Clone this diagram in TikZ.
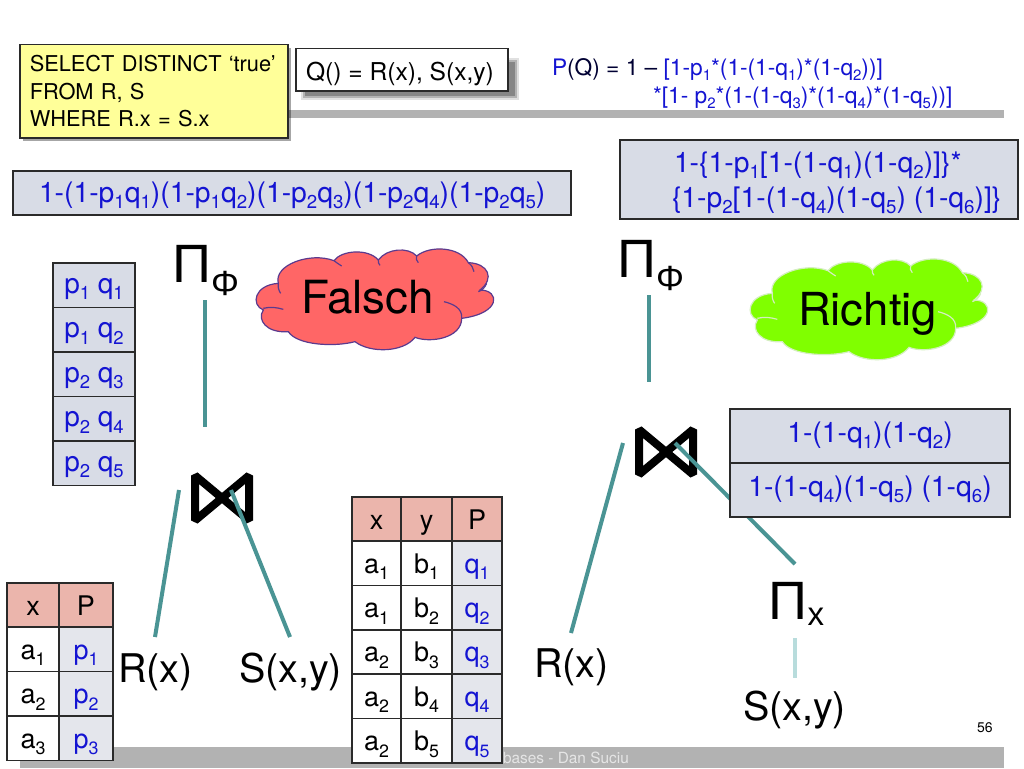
\documentclass[tikz,border=0pt]{standalone}
\usepackage{fontspec}
\setmainfont{TeX Gyre Heros}
\newfontfamily\symfont{Liberation Sans}
\usetikzlibrary{shadows}
\newcommand{\fsz}[1]{\fontsize{#1}{#1}\selectfont}
\newcommand{\dn}[1]{\raisebox{-0.24em}{\scalebox{0.66}{#1}}}
\definecolor{formblue}{HTML}{1414D2}
\definecolor{boxgray}{HTML}{D8DCE6}
\definecolor{cellgray}{HTML}{E4E6EC}
\definecolor{headred}{HTML}{EBB5AC}
\definecolor{bandgray}{HTML}{B2B2B2}
\definecolor{tealline}{HTML}{4A9494}
\definecolor{lightteal}{HTML}{B8DCDC}
\definecolor{edge}{HTML}{2A2A2A}
\definecolor{notey}{HTML}{FFFF99}
\definecolor{cloudred}{HTML}{FF6666}
\definecolor{cloudredline}{HTML}{5B3A8E}
\definecolor{cloudgreen}{HTML}{80FF00}
\definecolor{cloudgreenline}{HTML}{D4EEC0}
\tikzset{
  band/.style={fill=bandgray,draw=none},
  txt/.style={inner sep=0pt,outer sep=0pt,anchor=base west},
  bigtxt/.style={txt,font=\fsz{39.5}},
  form/.style={txt,text=formblue,font=\fsz{28.3}},
  pqform/.style={txt,text=formblue,font=\fsz{22.7}},
  formbox/.style={draw=edge,line width=1.5pt,fill=boxgray,inner sep=0pt,anchor=north west},
  conn/.style={draw=tealline,line width=4pt},
  lightconn/.style={draw=lightteal,line width=4pt},
  cellbase/.style={draw=edge,line width=1.5pt,inner sep=0pt,outer sep=0pt,anchor=north west,align=center,font=\fsz{27},text height=22pt,text depth=2pt},
  head/.style={cellbase,fill=headred},
  plain/.style={cellbase,fill=white},
  prob/.style={cellbase,fill=cellgray,text=formblue},
  listcell/.style={prob,fill=boxgray,minimum width=82pt,minimum height=44.5pt,font=\fsz{28},text height=18pt,text depth=2pt},
  rescell/.style={prob,fill=boxgray,minimum width=280pt,minimum height=54pt,font=\fsz{28.3},text height=16pt,text depth=4pt},
  pics/bowtie/.style={code={\draw[black,line width=8pt,line join=bevel] (-27,-22.5) -- (27,22.5) -- (27,-22.5) -- (-27,22.5) -- cycle;}},
  pics/cloudshape/.style 2 args={code={
    \begin{scope}[x=0.33333pt,y=-0.33333pt]
    \draw[fill=#1,draw=#2,line width=1.2pt]
      (670,240) .. controls (632,225) and (642,165) .. (715,160)
      .. controls (700,105) and (810,65) .. (882,92)
      .. controls (905,60) and (985,55) .. (1015,90)
      .. controls (1040,55) and (1105,50) .. (1130,78)
      .. controls (1170,45) and (1260,50) .. (1285,98)
      .. controls (1345,100) and (1365,145) .. (1320,180)
      .. controls (1380,180) and (1385,250) .. (1265,265)
      .. controls (1265,325) and (1170,340) .. (1125,322)
      .. controls (1090,368) and (990,370) .. (945,335)
      .. controls (880,352) and (770,345) .. (745,305)
      .. controls (680,310) and (650,270) .. (670,240) -- cycle;
    \draw[draw=#2,line width=1.2pt]
      (670,235) .. controls (690,230) and (710,232) .. (730,238)
      (715,160) .. controls (713,170) and (716,182) .. (722,190)
      (882,92) .. controls (890,98) and (898,104) .. (905,108)
      (1015,90) .. controls (1014,96) and (1016,102) .. (1020,106)
      (1130,78) .. controls (1127,86) and (1130,92) .. (1135,98)
      (1285,98) .. controls (1295,105) and (1300,115) .. (1302,125)
      (1340,160) .. controls (1335,172) and (1328,180) .. (1315,185)
      (1265,265) .. controls (1268,235) and (1240,222) .. (1212,215);
    \end{scope}}}
}
\begin{document}
\begin{tikzpicture}[x=1pt,y=-1pt]
\useasboundingbox (0,0) rectangle (1024,768);
\fill[white] (0,0) rectangle (1024,768);

% slide bands
\fill[band] (287,110) rectangle (1004,118);
\fill[band] (20,747) rectangle (1004,768);
\node[txt,text=white!90!black,font=\fsz{15.4}] (footer) at (503,763) {bases - Dan Suciu};
\node[txt,font=\fsz{14}] (pageno) at (977,732) {56};

% header boxes
\node[draw=edge,line width=1.5pt,fill=notey,drop shadow={shadow xshift=3pt,shadow yshift=-3pt,fill=black,opacity=.35},
  anchor=north west,minimum width=268pt,minimum height=93pt,inner xsep=10pt,inner ysep=0pt,text width=248pt,align=left,font=\fontsize{21.8}{27.2}\selectfont]
  (sql) at (19,44) {SELECT DISTINCT ‘true’\\FROM R, S\\WHERE R.x = S.x};
\fill[black,opacity=.12] (301,58) rectangle (519,100);
\fill[black,opacity=.2] (303,60) rectangle (517,98);
\fill[black,opacity=.25] (305,62) rectangle (515,96);
\node[draw=edge,line width=1.5pt,fill=white,anchor=north west,minimum width=212pt,minimum height=42pt,inner sep=0pt] (qbox) at (295,48) {};
\node[txt,font=\fsz{24.6}] (qtext) at (306,80) {Q() = R(x), S(x,y)};

\node[pqform] (pq1) at (552,75) {P\textcolor{black!80!blue}{(Q) = 1 – }[1-p\dn{1}*(1-(1-q\dn{1})*(1-q\dn{2}))]};
\node[pqform] (pq2) at (653,103) {*[1- p\dn{2}*(1-(1-q\dn{3})*(1-q\dn{4})*(1-q\dn{5}))]};

% formula boxes
\node[formbox,minimum width=558pt,minimum height=44pt] (fleft) at (12,170) {};
\node[form] (fleftt) at (39,202) {1-(1-p\dn{1}q\dn{1})(1-p\dn{1}q\dn{2})(1-p\dn{2}q\dn{3})(1-p\dn{2}q\dn{4})(1-p\dn{2}q\dn{5})};
\node[formbox,minimum width=398pt,minimum height=79pt] (fright) at (619,139) {};
\node[form] (frighta) at (674,172) {1-\{1-p\dn{1}[1-(1-q\dn{1})(1-q\dn{2})]\}*};
\node[form] (frightb) at (672,207) {\{1-p\dn{2}[1-(1-q\dn{4})(1-q\dn{5}) (1-q\dn{6})]\}};

% clouds
\path (40,230) pic {cloudshape={cloudred}{cloudredline}};
\node[txt,font=\fsz{45.7}] (falsch) at (301,313) {Falsch};
\begin{scope}[shift={(534,240)},xscale=1.02]
\path (0,0) pic {cloudshape={cloudgreen}{cloudgreenline}};
\end{scope}
\node[txt,font=\fsz{45.5}] (richtig) at (798,325) {Richtig};

% left plan
\node[txt,font=\fsz{54}\symfont] (pi1) at (172,282) {Π\raisebox{-13pt}{\fsz{35}Φ}};
\path (222,498) node[inner sep=0pt,outer sep=0pt] (j1) {} pic {bowtie};
\node[bigtxt] (r1) at (118,682) {R(x)};
\node[bigtxt] (s1) at (239,682) {S(x,y)};
\draw[conn] ([shift={(33,18)}]pi1.base west) -- ([shift={(-17,-71)}]j1.center);
\draw[conn] ([shift={(-43,-8)}]j1.center) -- ([shift={(37,-45)}]r1.base west);
\draw[conn] ([shift={(9,-8)}]j1.center) -- ([shift={(51,-45)}]s1.base west);

% right plan
\node[txt,font=\fsz{54}\symfont] (pi2) at (617,277) {Π\raisebox{-13pt}{\fsz{35}Φ}};
\path (666,452) node[inner sep=0pt,outer sep=0pt] (j2) {} pic {bowtie};
\node[bigtxt] (r2) at (534,677) {R(x)};
\node[txt,font=\fsz{54}\symfont] (pix) at (768,619) {Π\raisebox{-6pt}{\fsz{33}\hspace{0.5pt}x}};
\node[bigtxt] (s2) at (743,720) {S(x,y)};
\draw[conn] ([shift={(32,18)}]pi2.base west) -- ([shift={(-17,-70)}]j2.center);
\draw[conn] ([shift={(-43,-9)}]j2.center) -- ([shift={(37,-44)}]r2.base west);
\draw[conn] ([shift={(9,-9)}]j2.center) -- ([shift={(27,-55)}]pix.base west);
\draw[lightconn] ([shift={(27,19)}]pix.base west) -- ([shift={(52,-42)}]s2.base west);

% result list
\node[listcell] (l1) at (53,263) {p\dn{1} q\dn{1}};
\node[listcell] (l2) at (53,307.5) {p\dn{1} q\dn{2}};
\node[listcell] (l3) at (53,352) {p\dn{2} q\dn{3}};
\node[listcell] (l4) at (53,396.5) {p\dn{2} q\dn{4}};
\node[listcell] (l5) at (53,441) {p\dn{2} q\dn{5}};

% right result table
\node[rescell] (res1) at (730,409) {1-(1-q\dn{1})(1-q\dn{2})};
\node[rescell] (res2) at (730,463) {1-(1-q\dn{4})(1-q\dn{5}) (1-q\dn{6})};

% table R
\tikzset{rw/.style={minimum width=52pt,minimum height=44.5pt},rp/.style={minimum width=54pt,minimum height=44.5pt}}
\node[head,rw] (rh1) at (7,583) {x};
\node[head,rp] (rh2) at (59,583) {P};
\node[plain,rw] (ra1) at (7,627) {a\dn{1}};
\node[prob,rp] (rp1) at (59,627) {p\dn{1}};
\node[plain,rw] (ra2) at (7,671.5) {a\dn{2}};
\node[prob,rp] (rp2) at (59,671.5) {p\dn{2}};
\node[plain,rw] (ra3) at (7,716) {a\dn{3}};
\node[prob,rp] (rp3) at (59,716) {p\dn{3}};

% table S
\tikzset{sx/.style={minimum width=49pt,minimum height=44.3pt},sy/.style={minimum width=51pt,minimum height=44.3pt},sp/.style={minimum width=50pt,minimum height=44.3pt}}
\node[head,sx] (sh1) at (352,497) {x};
\node[head,sy] (sh2) at (401,497) {y};
\node[head,sp] (sh3) at (452,497) {P};
\node[plain,sx] (sa1) at (352,541) {a\dn{1}};
\node[plain,sy] (sb1) at (401,541) {b\dn{1}};
\node[prob,sp] (sq1) at (452,541) {q\dn{1}};
\node[plain,sx] (sa2) at (352,585.4) {a\dn{1}};
\node[plain,sy] (sb2) at (401,585.4) {b\dn{2}};
\node[prob,sp] (sq2) at (452,585.4) {q\dn{2}};
\node[plain,sx] (sa3) at (352,629.8) {a\dn{2}};
\node[plain,sy] (sb3) at (401,629.8) {b\dn{3}};
\node[prob,sp] (sq3) at (452,629.8) {q\dn{3}};
\node[plain,sx] (sa4) at (352,674.2) {a\dn{2}};
\node[plain,sy] (sb4) at (401,674.2) {b\dn{4}};
\node[prob,sp] (sq4) at (452,674.2) {q\dn{4}};
\node[plain,sx] (sa5) at (352,718.6) {a\dn{2}};
\node[plain,sy] (sb5) at (401,718.6) {b\dn{5}};
\node[prob,sp] (sq5) at (452,718.6) {q\dn{5}};
\end{tikzpicture}
\end{document}
